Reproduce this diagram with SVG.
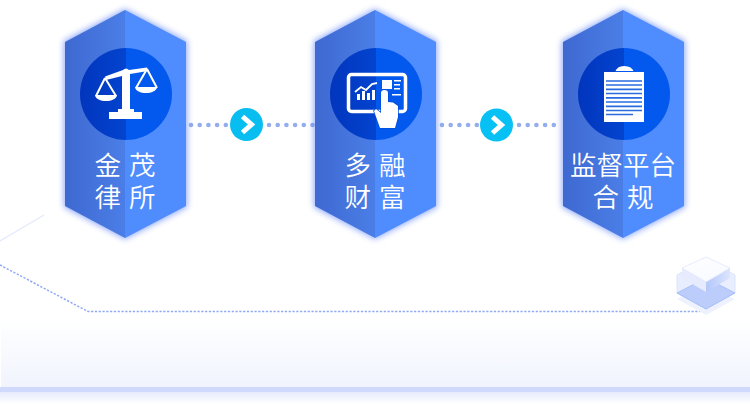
<svg xmlns="http://www.w3.org/2000/svg" width="750" height="404" viewBox="0 0 750 404">
<style>
.lbl{font-family:"Noto Sans CJK SC",sans-serif;font-size:26.500px;font-weight:350;fill:#fff;text-anchor:middle;word-spacing:2px}
.dots{fill:none;stroke:#93adee;stroke-width:4.600;stroke-linecap:round;stroke-dasharray:0 8.700}
.chev{fill:none;stroke:#fff;stroke-width:5;stroke-linecap:butt}
.ic{fill:#fff}
.icl{fill:none;stroke:#fff;stroke-width:2}
</style>
<defs>
<linearGradient id="hexL" x1="0" x2="1" y1="0" y2="0"><stop offset="0" stop-color="#3e69d1"/><stop offset="1" stop-color="#4a7ee6"/></linearGradient>
<linearGradient id="cirL" x1="0" x2="1" y1="0" y2="0"><stop offset="0" stop-color="#0235bd"/><stop offset="1" stop-color="#0344cf"/></linearGradient>
<linearGradient id="floor" x1="0" x2="0" y1="0" y2="1"><stop offset="0" stop-color="#fff"/><stop offset="1" stop-color="#f1f4fe"/></linearGradient>
<linearGradient id="under" x1="0" x2="0" y1="0" y2="1"><stop offset="0" stop-color="#e6ebfd"/><stop offset="1" stop-color="#fff"/></linearGradient>
<linearGradient id="top" x1="0" x2="1" y1="0" y2="1"><stop offset="0" stop-color="#fff"/><stop offset="1" stop-color="#f7f9ff"/></linearGradient>
<linearGradient id="sideR" x1="0" x2="1" y1="0" y2="0"><stop offset="0" stop-color="#b4c7fb"/><stop offset="1" stop-color="#dce5fe"/></linearGradient>
<filter id="glow" x="-20%" y="-20%" width="140%" height="140%"><feGaussianBlur stdDeviation="3"/></filter>
<g id="hex">
<path d="M0 9 L62 41 V207 L0 239 L-61 207 V41Z" fill="#5a80f8" opacity=".7" filter="url(#glow)"/>
<path d="M0 10 L61 42 V206 L0 238Z" fill="#4f8cfd"/>
<path d="M0 10 L-60 42 V206 L0 238Z" fill="url(#hexL)"/>
<path d="M1 48 A46 46 0 0 1 1 140Z" fill="#0358ed"/>
<path d="M1 48 A46 46 0 0 0 1 140Z" fill="url(#cirL)"/>
</g>
</defs>
<rect width="750" height="404" fill="#fff"/>
<g id="floor-band">
<rect x="1" y="318" width="749" height="69" fill="url(#floor)"/>
<rect x="0" y="387" width="750" height="5" fill="#cfd9fb"/>
<rect x="0" y="392" width="750" height="12" fill="url(#under)"/>
</g>
<g id="connectors">
<path d="M0 241 L44 215" fill="none" stroke="#e3e9fc" stroke-width="1.200"/>
<path d="M0 265 L88 311.500 H700" fill="none" stroke="#8fa9f2" stroke-width="1.500" stroke-dasharray="2.200 1.600"/>
<path class="dots" d="M191 125 H230"/>
<path class="dots" d="M269 125 H314"/>
<path class="dots" d="M442 125 H480"/>
<path class="dots" d="M519 125 H562"/>
</g>
<g id="node-arrow-1">
<circle cx="246.500" cy="124.500" r="16.500" fill="#08bdf0"/>
<path class="chev" d="M242.500 116.500 L251.500 124.500 L242.500 132.500"/>
</g>
<g id="node-arrow-2">
<circle cx="496.500" cy="125" r="16.500" fill="#08c1f4"/>
<path class="chev" d="M492.500 117 L501.500 125 L492.500 133"/>
</g>
<g id="node-1">
<use href="#hex" x="125"/>
<path class="ic" d="M123 70 q3-3 6 0 L147 67.500 l1 3.500 L130 74 V109 H134 V112 H142 V119 H109 V112 H118 V109 H122 V76 L106 80 l-1-3.500Z"/>
<path class="icl" d="M105 78 L96 96 M105 78 L116 96 M147 69 L136 88 M147 69 L157 88"/>
<path class="ic" d="M95 95 H117 C116 103 96 103 95 95Z M135 87 H157 C156 95 136 95 135 87Z"/>
<text class="lbl" x="125" y="175">金 茂</text>
<text class="lbl" x="125" y="207">律 所</text>
</g>
<g id="node-2">
<use href="#hex" x="375"/>
<rect x="348.500" y="74.500" width="57" height="37" rx="3" fill="none" stroke="#fff" stroke-width="3.500"/>
<path class="ic" d="M382 80 H392 V89 H382Z M394 80 H401 V81.500 H394Z M394 84 H400 V85.500 H394Z M394 88 H400 V89.500 H394Z M392 94 H401 V95.500 H392Z M357 100 V94 H360 V100Z M362 100 V91 H365 V100Z M367 100 V93 H370 V100Z M372 100 V90 H375 V100Z"/>
<path d="M355 92 L361 87 L366 90 L372 84 L377 83" fill="none" stroke="#fff" stroke-width="1.800"/>
<path class="ic" stroke="#0250de" stroke-width="1.500" paint-order="stroke" d="M381 93 q0-3 3.500-3 q3.500 0 3.500 3 V102 l5 .500 l5 3.500 V117 L395 128 H380 L374 111 l2-2 l5 4Z"/>
<text class="lbl" x="375" y="175">多 融</text>
<text class="lbl" x="375" y="207">财 富</text>
</g>
<g id="node-3">
<use href="#hex" x="623"/>
<path class="ic" d="M604 72 H615 Q617 66 624 66 Q632 66 634 72 H644 V122 H604Z"/>
<path d="M615 71.500 H634" fill="none" stroke="#0358ed" stroke-width="1"/>
<path d="M606 81 H642 M606 85 H642 M606 89.300 H642 M606 93.500 H642 M606 97.800 H642 M606 102 H642 M606 106.300 H642 M606 110.500 H642 M606 114.500 H633" fill="none" stroke="#2a6ce0" stroke-width="1.700"/>
<text class="lbl" x="623" y="175">监督平台</text>
<text class="lbl" x="623" y="207">合 规</text>
</g>
<g id="node-stack">
<path d="M677 299 L706 315 L735 299 L706 287Z" fill="#eef2fe"/>
<path d="M677 275 L706 259 L735 275 V293 L706 309 L677 293Z" fill="#e8eefe" stroke="#d4defb" stroke-width=".8"/>
<path d="M677 293 L706 278 L735 293 L706 309Z" fill="#bccdfb" stroke="#9db7f9" stroke-width=".8"/>
<path d="M682 268 L706 282 V292 L682 278Z" fill="#e6ecfe"/>
<path d="M706 282 L730 268 V278 L706 292Z" fill="url(#sideR)"/>
<path d="M682 268 L706 257 L730 268 L706 282Z" fill="url(#top)" stroke="#dfe6fd" stroke-width=".8"/>
</g>
</svg>
